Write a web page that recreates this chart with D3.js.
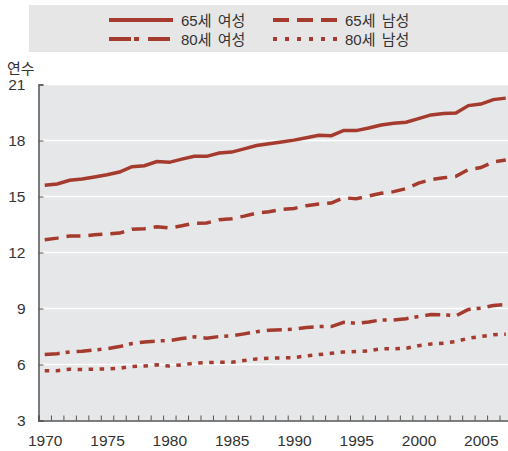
<!DOCTYPE html>
<html>
<head>
<meta charset="utf-8">
<script src="https://cdn.jsdelivr.net/npm/d3@7"></script>
<style>
  body { margin: 0; background: #fff; }
  svg { display: block; font-family: "Liberation Sans", Arial, "Noto Sans CJK KR", sans-serif; }
</style>
</head>
<body>
<svg id="chart" width="508" height="451"></svg>
<script>
// data: OECD average life expectancy at 65 and 80 (years)
var years = d3.range(1970, 2008);
var women65 = [15.60, 15.67, 15.87, 15.94, 16.05, 16.17, 16.31, 16.60, 16.65, 16.87,
               16.83, 17.00, 17.15, 17.15, 17.33, 17.38, 17.55, 17.73, 17.83, 17.92,
               18.02, 18.15, 18.28, 18.26, 18.54, 18.53, 18.67, 18.83, 18.92, 18.98,
               19.17, 19.37, 19.44, 19.47, 19.87, 19.95, 20.19, 20.27];
var men65   = [12.68, 12.77, 12.88, 12.88, 12.95, 12.99, 13.04, 13.24, 13.27, 13.38,
               13.31, 13.43, 13.57, 13.58, 13.76, 13.81, 13.95, 14.11, 14.18, 14.31,
               14.36, 14.51, 14.60, 14.65, 14.93, 14.88, 15.03, 15.17, 15.26, 15.42,
               15.72, 15.90, 16.00, 16.08, 16.44, 16.55, 16.85, 16.95];
var women80 = [6.53, 6.58, 6.67, 6.71, 6.78, 6.84, 6.96, 7.12, 7.21, 7.26,
               7.28, 7.39, 7.48, 7.41, 7.50, 7.53, 7.64, 7.76, 7.84, 7.86,
               7.89, 7.98, 8.03, 8.03, 8.26, 8.21, 8.28, 8.39, 8.39, 8.45,
               8.57, 8.68, 8.66, 8.61, 8.95, 9.02, 9.16, 9.21];
var men80   = [5.67, 5.67, 5.75, 5.73, 5.75, 5.76, 5.80, 5.89, 5.92, 5.98,
               5.92, 5.98, 6.07, 6.10, 6.12, 6.12, 6.21, 6.30, 6.34, 6.35,
               6.37, 6.46, 6.53, 6.60, 6.67, 6.69, 6.73, 6.84, 6.84, 6.87,
               7.01, 7.10, 7.14, 7.23, 7.41, 7.50, 7.59, 7.62];
var seriesNames = ["65세 여성", "65세 남성", "80세 여성", "80세 남성"];
var yTicks = [3, 6, 9, 12, 15, 18, 21];
var xLabels = [1970, 1975, 1980, 1985, 1990, 1995, 2000, 2005];
var yTitle = "연수";

var red = "#a53a2e";
var dashes = ["none", "14,8", "15,6,4,7", "4.5,6.5"];
var legendDashes = ["none", "16,8", "22,3,5,9", "4,8"];
var allSeries = [women65, men65, women80, men80];

var svg = d3.select("#chart");
var plotL = 38.5, plotR = 512, plotT = 84.5, plotB = 420.5;

var x = d3.scaleLinear().domain([1969.5, 2007.5]).range([plotL, plotR]);
var y = d3.scaleLinear().domain([3, 21]).range([plotB, plotT]);

// legend box
svg.append("rect")
    .attr("x", 29).attr("y", 5).attr("width", 479).attr("height", 47)
    .style("fill", "#e6e6e6");

var leg = svg.append("g").selectAll("g")
    .data(seriesNames)
    .enter().append("g")
    .attr("transform", function(d, i) {
      return "translate(" + (i % 2 ? 273 : 109) + "," + (i < 2 ? 20 : 39) + ")";
    });
leg.append("line")
    .attr("x1", 0).attr("x2", 64).attr("y1", 0).attr("y2", 0)
    .style("stroke", red).style("stroke-width", 4)
    .style("stroke-dasharray", function(d, i) { return legendDashes[i]; });
leg.append("text")
    .attr("x", 72).attr("y", 5.5)
    .style("font-size", "15px").style("fill", "#333")
    .style("word-spacing", "2px")
    .text(function(d) { return d; });

// plot background
svg.append("rect")
    .attr("x", plotL).attr("y", plotT)
    .attr("width", plotR - plotL).attr("height", plotB - plotT)
    .style("fill", "#e6e7e8");

// gridlines
svg.append("g").selectAll("line")
    .data(yTicks.slice(1))
    .enter().append("line")
    .attr("x1", plotL).attr("x2", plotR)
    .attr("y1", function(d) { return y(d); })
    .attr("y2", function(d) { return y(d); })
    .style("stroke", "#fff").style("stroke-width", 1.6);

// y axis
var yAxis = svg.append("g")
    .attr("transform", "translate(" + plotL + ",0)")
    .call(d3.axisLeft(y).tickValues(yTicks).tickSize(-5).tickPadding(13));
yAxis.select(".domain").style("stroke", "#555").style("stroke-width", 1.5);
yAxis.selectAll(".tick line").style("stroke", "#555");
yAxis.selectAll("text").style("font-size", "15.5px").style("fill", "#333");

// x axis: year ticks at boundaries, labels in the middle
var xAxis = svg.append("g")
    .attr("transform", "translate(0," + plotB + ")")
    .call(d3.axisBottom(x).tickValues(years.map(function(d) { return d - 0.5; }).concat([2007.5]))
      .tickSize(-5).tickFormat(""));
xAxis.select(".domain").style("stroke", "#555").style("stroke-width", 1.5);
xAxis.selectAll(".tick line").style("stroke", "#555");

var xLab = svg.append("g")
    .attr("transform", "translate(0," + plotB + ")")
    .call(d3.axisBottom(x).tickValues(xLabels).tickSize(0).tickPadding(14).tickFormat(d3.format("d")));
xLab.select(".domain").remove();
xLab.selectAll("text").style("font-size", "15.5px").style("fill", "#333");

svg.append("text")
    .attr("x", 7).attr("y", 74)
    .style("font-size", "15px").style("fill", "#333")
    .text(yTitle);

// lines
var line = d3.line()
    .x(function(d, i) { return x(years[i]); })
    .y(function(d) { return y(d); });

svg.append("g").selectAll("path")
    .data(allSeries)
    .enter().append("path")
    .attr("d", line)
    .style("fill", "none")
    .style("stroke", red)
    .style("stroke-width", 3.5)
    .style("stroke-dasharray", function(d, i) { return dashes[i]; });
</script>
</body>
</html>
